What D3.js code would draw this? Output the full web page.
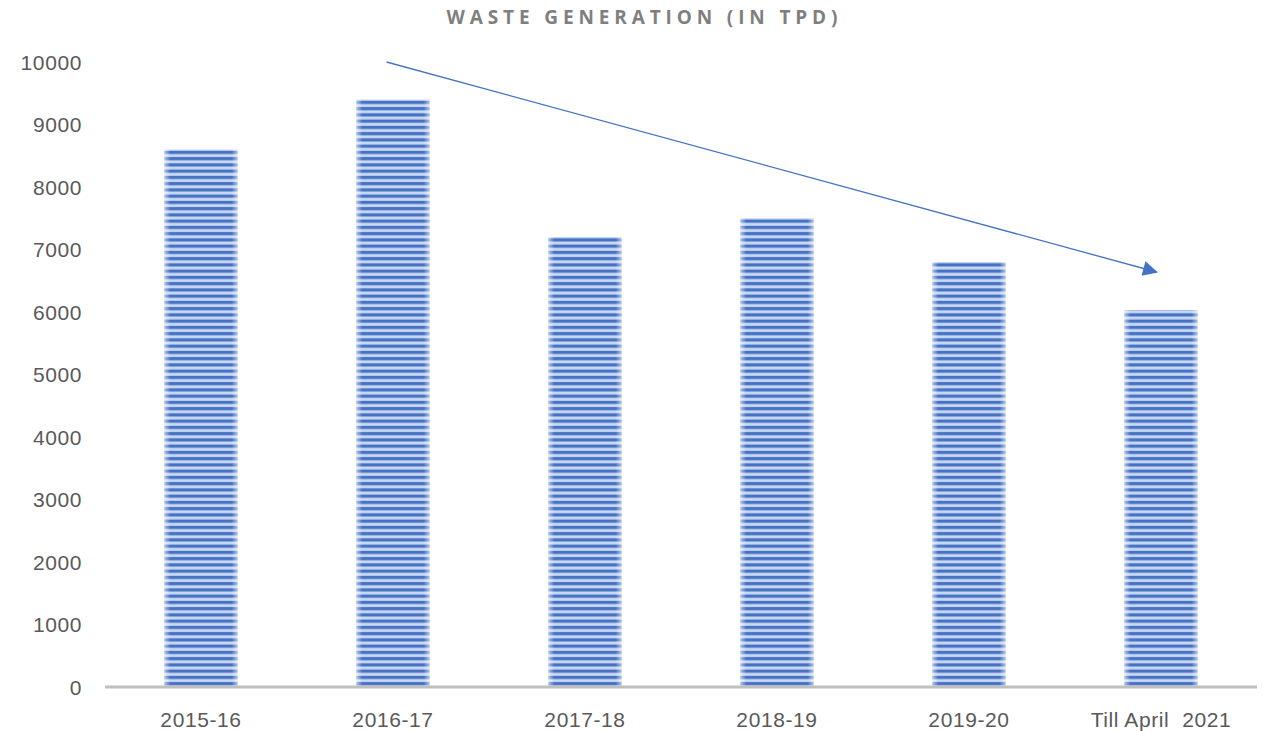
<!DOCTYPE html>
<html lang="en">
<head>
    <meta charset="UTF-8">
    <title>Waste Generation (in TPD)</title>
    <script src="https://cdn.jsdelivr.net/npm/d3@7"></script>
    <style>
        body { margin: 0; background: #fff; }
        .tick-label { font-family: "Liberation Sans", Arial, sans-serif; font-size: 21px; fill: #595959; letter-spacing: 0.6px; }
        .title { font-family: "Open Sans", "Liberation Sans", Arial, sans-serif; font-size: 19px; font-weight: bold; fill: #7f7f7f; }
    </style>
</head>
<body>
<script>
    // chart data
    const years = ["2015-16", "2016-17", "2017-18", "2018-19", "2019-20", "Till April  2021"];
    const waste = [8600, 9400, 7200, 7500, 6800, 6030];
    const yTicks = [0, 1000, 2000, 3000, 4000, 5000, 6000, 7000, 8000, 9000, 10000];
    // trend arrow: from 2016-17 at 10000 down to the last year
    const trendFrom = { cat: "2016-17", value: 10000 };
    const trendTo = { cat: "Till April  2021", value: 6640 };

    const width = 1266, height = 731;
    const margin = { top: 62, right: 9, bottom: 44, left: 105 };

    const svg = d3.select("body").append("svg")
        .attr("width", width)
        .attr("height", height);

    const x = d3.scaleBand()
        .domain(years)
        .range([margin.left, width - margin.right])
        .paddingInner(0.62)
        .paddingOuter(0.31);

    const y = d3.scaleLinear()
        .domain([0, 10000])
        .range([height - margin.bottom, margin.top]);

    const defs = svg.append("defs");

    // horizontal stripe fill
    const pat = defs.append("pattern")
        .attr("id", "stripes")
        .attr("patternUnits", "userSpaceOnUse")
        .attr("width", 8)
        .attr("height", 6.25);
    pat.append("rect").attr("width", 8).attr("height", 6.25).attr("fill", "#c9d7f0");
    pat.append("rect").attr("y", 0.8).attr("width", 8).attr("height", 3.2).attr("fill", "#4472c4");

    // soft edges on the bars
    const edge = defs.append("linearGradient").attr("id", "edge");
    edge.append("stop").attr("offset", "0%").attr("stop-color", "#fff").attr("stop-opacity", 0.55);
    edge.append("stop").attr("offset", "8%").attr("stop-color", "#fff").attr("stop-opacity", 0);
    edge.append("stop").attr("offset", "92%").attr("stop-color", "#fff").attr("stop-opacity", 0);
    edge.append("stop").attr("offset", "100%").attr("stop-color", "#fff").attr("stop-opacity", 0.55);

    const data = years.map((d, i) => ({ year: d, value: waste[i] }));

    svg.append("g").selectAll("rect")
        .data(data)
        .enter().append("rect")
        .attr("x", d => x(d.year))
        .attr("y", d => y(d.value))
        .attr("width", x.bandwidth())
        .attr("height", d => y(0) - y(d.value))
        .attr("fill", "url(#stripes)");

    svg.append("g").selectAll("rect")
        .data(data)
        .enter().append("rect")
        .attr("x", d => x(d.year))
        .attr("y", d => y(d.value))
        .attr("width", x.bandwidth())
        .attr("height", d => y(0) - y(d.value))
        .attr("fill", "url(#edge)");

    // x axis line
    svg.append("line")
        .attr("x1", margin.left)
        .attr("x2", width - margin.right)
        .attr("y1", y(0))
        .attr("y2", y(0))
        .attr("stroke", "#bfbfbf")
        .attr("stroke-width", 3);

    // y tick labels
    svg.append("g").selectAll("text")
        .data(yTicks)
        .enter().append("text")
        .attr("class", "tick-label")
        .attr("x", 82)
        .attr("y", d => y(d))
        .attr("dy", "0.36em")
        .attr("text-anchor", "end")
        .text(d => d);

    // x labels
    svg.append("g").selectAll("text")
        .data(years)
        .enter().append("text")
        .attr("class", "tick-label")
        .attr("x", d => x(d) + x.bandwidth() / 2)
        .attr("y", 727)
        .attr("text-anchor", "middle")
        .style("white-space", "pre")
        .attr("xml:space", "preserve")
        .text(d => d);

    // title
    svg.append("text")
        .attr("class", "title")
        .attr("x", 642)
        .attr("y", 24)
        .attr("text-anchor", "middle")
        .attr("textLength", 391)
        .attr("lengthAdjust", "spacing")
        .text("WASTE GENERATION (IN TPD)");

    // trend arrow
    defs.append("marker")
        .attr("id", "head")
        .attr("viewBox", "0 0 10 10")
        .attr("refX", 9)
        .attr("refY", 5)
        .attr("markerWidth", 20)
        .attr("markerHeight", 15)
        .attr("markerUnits", "userSpaceOnUse")
        .attr("orient", "auto")
        .append("path")
        .attr("d", "M0,0 L10,5 L0,10 Z")
        .attr("fill", "#4472c4");

    svg.append("line")
        .attr("x1", x(trendFrom.cat) + 30)
        .attr("y1", y(trendFrom.value))
        .attr("x2", x(trendTo.cat) + 32)
        .attr("y2", y(trendTo.value))
        .attr("stroke", "#4472c4")
        .attr("stroke-width", 1.3)
        .attr("marker-end", "url(#head)");
</script>
</body>
</html>
